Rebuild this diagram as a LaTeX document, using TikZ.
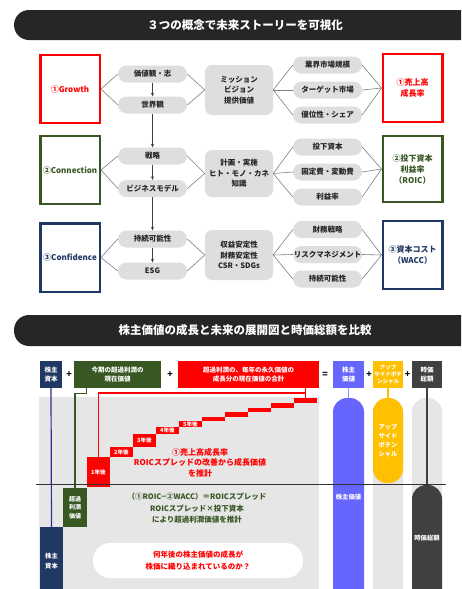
\documentclass[tikz,border=0pt]{standalone}
\usepackage{fontspec}
\setmainfont{Noto Sans CJK JP}
\usetikzlibrary{arrows.meta}

\definecolor{banner}{HTML}{262626}
\definecolor{pillgray}{HTML}{DEDEDE}
\definecolor{linegray}{HTML}{7F7F7F}
\definecolor{growthred}{HTML}{FF0000}
\definecolor{connGreen}{HTML}{385723}
\definecolor{confNavy}{HTML}{203864}
\definecolor{panelgray}{HTML}{E6E6E6}
\definecolor{valueblue}{HTML}{6666FF}
\definecolor{upamber}{HTML}{FFC000}
\definecolor{capdark}{HTML}{404040}
\definecolor{equityline}{HTML}{2F2F9A}

\begin{document}
\begin{tikzpicture}[x=1pt,y=-1pt,
  bannertext/.style={text=white,font=\bfseries\fontsize{11.5}{13}\selectfont},
  keybox/.style={draw,line width=2.5pt,fill=white,minimum width=59.5pt,inner sep=0pt,
    align=center,font=\bfseries\fontsize{8}{11}\selectfont},
  pillnode/.style={fill=pillgray,rounded corners=8.5pt,minimum width=69pt,minimum height=17pt,
    inner sep=0pt,text=black!85,font=\bfseries\fontsize{7.5}{9}\selectfont},
  midnode/.style={fill=pillgray,rounded corners=7pt,minimum width=68pt,inner sep=0pt,
    align=center,text=black!85,font=\bfseries\fontsize{7.5}{10.5}\selectfont},
  link/.style={draw=linegray,line width=0.6pt},
  downarrow/.style={draw=black!75,line width=0.6pt,-{Stealth[length=3.5pt,width=3.2pt]}},
  headbox/.style={minimum height=27pt,inner sep=0pt,align=center,text=white,
    font=\bfseries\fontsize{6.5}{8.5}\selectfont},
  opsign/.style={font=\bfseries\fontsize{9}{10}\selectfont},
  colpill/.style={rounded corners=14pt,inner sep=0pt,minimum width=30pt},
  coltext/.style={text=white,align=center,font=\bfseries\fontsize{6.3}{9.2}\selectfont},
  stepbar/.style={fill=red,inner sep=0pt,outer sep=0pt,minimum width=23pt},
  steplabel/.style={text=white,font=\bfseries\fontsize{5.6}{6}\selectfont},
]
\clip (0,0) rectangle (461,589);
\fill[white] (0,0) rectangle (461,589);

% ---------- upper half: three concepts ----------
\fill[banner,rounded corners=15pt] (14,10) rectangle (500,40);
\node[bannertext] (title1) at (245,25.5) {３つの概念で未来ストーリーを可視化};

% row 1 : growth
\node[keybox,draw=growthred,text=growthred,minimum height=68pt] (g) at (70,89) {①Growth};
\node[pillnode] (p11) at (152.5,74) {価値観・志};
\node[pillnode] (p12) at (152.5,105) {世界観};
\node[midnode,minimum height=50pt] (m1) at (239,90) {ミッション\\ビジョン\\提供価値};
\node[pillnode] (r11) at (327.5,65) {業界市場規模};
\node[pillnode] (r12) at (327.5,90) {ターゲット市場};
\node[pillnode] (r13) at (327.5,115) {優位性・シェア};
\node[keybox,draw=growthred,text=growthred,minimum height=68pt] (k1) at (412.5,88) {①売上高\\成長率};

% row 2 : connection
\node[keybox,draw=connGreen,text=connGreen,minimum height=68pt] (c) at (70,170) {②Connection};
\node[pillnode] (p21) at (152.5,156) {戦略};
\node[pillnode] (p22) at (152.5,188.5) {ビジネスモデル};
\node[midnode,minimum height=47pt] (m2) at (239,173.5) {計画・実施\\ヒト・モノ・カネ\\知識};
\node[pillnode] (r21) at (327.5,147) {投下資本};
\node[pillnode] (r22) at (327.5,172) {固定費・変動費};
\node[pillnode] (r23) at (327.5,197) {利益率};
\node[keybox,draw=connGreen,text=connGreen,minimum height=66pt] (k2) at (412.5,169) {②投下資本\\利益率\\（ROIC）};

% row 3 : confidence
\node[keybox,draw=confNavy,text=confNavy,minimum height=68.5pt] (f) at (70,257.5) {③Confidence};
\node[pillnode] (p31) at (152.5,239) {持続可能性};
\node[pillnode] (p32) at (152.5,271) {ESG};
\node[midnode,minimum height=50pt] (m3) at (239,255) {収益安定性\\財務安定性\\CSR・SDGs};
\node[pillnode] (r31) at (327.5,229.5) {財務戦略};
\node[pillnode] (r32) at (327.5,254.5) {リスクマネジメント};
\node[pillnode] (r33) at (327.5,279) {持続可能性};
\node[keybox,draw=confNavy,text=confNavy,minimum height=68pt] (k3) at (412.5,255) {③資本コスト\\（WACC）};

% fan-out connectors
\draw[link] (g.east) -- (p11.west);  \draw[link] (g.east) -- (p12.west);
\draw[link] (c.east) -- (p21.west);  \draw[link] (c.east) -- (p22.west);
\draw[link] (f.east) -- (p31.west);  \draw[link] (f.east) -- (p32.west);
\draw[link] (p11.east) -- (m1.west); \draw[link] (p12.east) -- (m1.west);
\draw[link] (p21.east) -- (m2.west); \draw[link] (p22.east) -- (m2.west);
\draw[link] (p31.east) -- (m3.west); \draw[link] (p32.east) -- (m3.west);
\foreach \j in {1,2,3}{
  \draw[link] (m1.east) -- (r1\j.west); \draw[link] (r1\j.east) -- (k1.west);
  \draw[link] (m2.east) -- (r2\j.west); \draw[link] (r2\j.east) -- (k2.west);
  \draw[link] (m3.east) -- (r3\j.west); \draw[link] (r3\j.east) -- (k3.west);
}
% vertical flow
\draw[downarrow] (p11.south) -- (p12.north);
\draw[downarrow] (p12.south) -- (p21.north);
\draw[downarrow] (p21.south) -- (p22.north);
\draw[downarrow] (p22.south) -- (p31.north);
\draw[downarrow] (p31.south) -- (p32.north);

% ---------- lower half: shareholder value vs. market cap ----------
\fill[banner,rounded corners=15pt] (14,315) rectangle (500,346);
\node[bannertext] (title2) at (245,330.5) {株主価値の成長と未来の展開図と時価総額を比較};

% backgrounds
\fill[panelgray] (39,397) rectangle (319,600);
\fill[panelgray,rounded corners=14pt] (373,398) rectangle (403,640);
\fill[panelgray,rounded corners=14pt] (412,398) rectangle (442,640);

% header row
\node[headbox,fill=confNavy,minimum width=22pt] (h1) at (51,374.5) {株主\\資本};
\node[opsign] (op1) at (69,375) {+};
\node[headbox,fill=connGreen,minimum width=87pt] (h2) at (117.5,374.5) {今期の超過利潤の\\現在価値};
\node[opsign] (op2) at (170,375) {+};
\node[headbox,fill=red,minimum width=141pt] (h3) at (248.5,374.5) {超過利潤の、毎年の永久価値の\\成長分の現在価値の合計};
\node[opsign] (op3) at (325,375) {=};
\node[headbox,fill=valueblue,minimum width=31pt] (h4) at (348.5,374.5) {株主\\価値};
\node[opsign] (op4) at (369,375) {+};
\node[headbox,fill=upamber,minimum width=30pt,font=\bfseries\fontsize{5.5}{7.2}\selectfont] (h5) at (388,374.5) {アップ\\サイドポテ\\ンシャル};
\node[opsign] (op5) at (407.5,375) {+};
\node[headbox,fill=capdark,minimum width=30pt] (h6) at (427,374.5) {時価\\総額};

% columns on the right
\node[colpill,fill=valueblue,minimum width=31pt,minimum height=240pt] (bluecol) at (348.5,518) {};
\node[colpill,fill=upamber,minimum height=85pt] (ambercol) at (388,440.5) {};
\node[colpill,fill=capdark,minimum height=160pt] (darkcol) at (427,565) {};
\node[coltext] (bluetxt) at (348.5,497) {株主価値};
\node[coltext] (ambertxt) at (388,440.5) {アップ\\サイド\\ポテン\\シャル};
\node[coltext] (darktxt) at (427,538) {時価総額};
\draw[valueblue!70,line width=1.2pt] (h4.south) -- (bluecol.north);
\draw[upamber,line width=1.2pt] (h5.south) -- (ambercol.north);
\draw[capdark,line width=1.2pt] (h6.south) -- (darkcol.north);

% staircase of future growth value
\foreach \i/\t/\b in {1/457/487,2/447/457,3/434/447,4/427/434,5/421/427,
                      6/417/421,7/412/417,8/408/412,9/403/408,10/398/403}{
  \node[stepbar,minimum height={(\b-\t)*1pt}] (s\i) at ({87+23*(\i-1)+11.5},{(\t+\b)/2}) {};
}
\node[steplabel] (l1) at (98.5,472) {1年後};
\node[steplabel] (l2) at (121.5,452) {2年後};
\node[steplabel] (l3) at (144.5,440.5) {3年後};
\node[steplabel] (l4) at (167.5,430.5) {4年後};
\node[steplabel] (l5) at (190.5,424) {5年後};

% red connector from the growth-value header
\coordinate (redjoin) at (305.5,393);
\draw[red,line width=1.2pt] (s10.north |- h3.south) -- (s10.north);
\draw[red,line width=1.2pt] (redjoin) -| (s1.north);

% excess-profit value box and its connector
\node[headbox,fill=connGreen,minimum width=24pt,minimum height=39pt,font=\bfseries\fontsize{6}{8.3}\selectfont] (exbox) at (75,507.5) {超過\\利潤\\価値};
\draw[connGreen,line width=1.2pt] ([xshift=13pt]h2.south west) -- ++(0,5) -| (exbox.north);

% shareholders' equity box and its connector
\node[fill=confNavy,inner sep=0pt,minimum width=23pt,minimum height=100pt] (eqbox) at (51.5,577) {};
\node[coltext] (eqtxt) at (51.5,561) {株主\\資本};
\draw[equityline,line width=1.2pt] (h1.south) -- (eqbox.north);

% explanatory texts
\node[text=red,align=center,font=\bfseries\fontsize{8}{10.5}\selectfont] (growthnote) at (200,462.5)
  {①売上高成長率\\ROICスプレッドの改善から成長価値\\を推計};
\node[text=connGreen,align=center,font=\bfseries\fontsize{7.5}{11.5}\selectfont] (spreadnote) at (197,508.5)
  {（①ROIC−②WACC）＝ROICスプレッド\\ROICスプレッド×投下資本\\により超過利潤価値を推計};
\node[fill=white,rounded corners=17pt,minimum width=210pt,minimum height=35pt,inner sep=0pt,
      text=red,align=center,font=\bfseries\fontsize{7.5}{12}\selectfont] (question) at (198,560.5)
  {何年後の株主価値の成長が\\株価に織り込まれているのか？};

% base line
\coordinate (baseL) at (36,484);
\coordinate (baseR) at (446,484);
\draw[black!80,line width=0.8pt] (baseL) -- (baseR);
\end{tikzpicture}
\end{document}
